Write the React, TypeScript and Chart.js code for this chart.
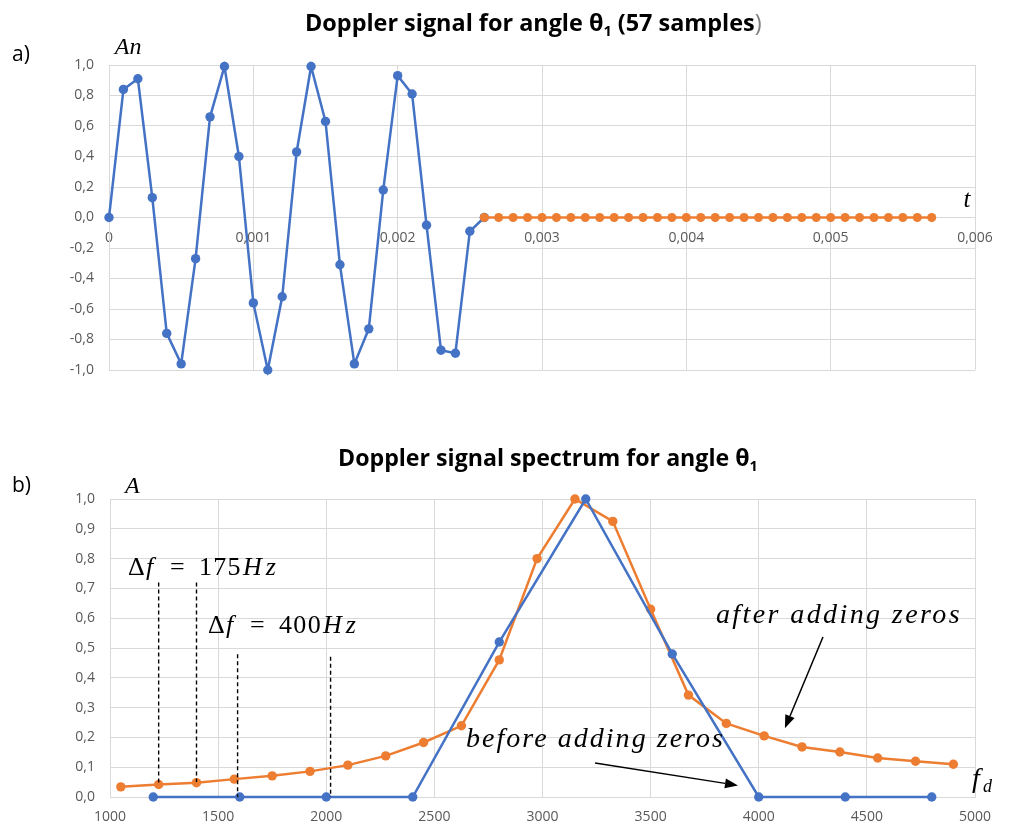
import React, { useEffect, useRef } from "react";
import { Chart, registerables } from "chart.js";
Chart.register(...registerables);

const BLUE = "#4472C4";
const ORANGE = "#ED7D31";
const GRID = "#d9d9d9";
const TICK = "#595959";
const SANS = "'Open Sans', 'Liberation Sans', sans-serif";
const SERIF = "'Liberation Serif', 'DejaVu Serif', serif";

// ---- a) Doppler signal ----
const signalTimes = [0, 0.0001, 0.0002, 0.0003, 0.0004, 0.0005, 0.0006, 0.0007, 0.0008, 0.0009, 0.001, 0.0011, 0.0012, 0.0013, 0.0014, 0.0015, 0.0016, 0.0017, 0.0018, 0.0019, 0.002, 0.0021, 0.0022, 0.0023, 0.0024, 0.0025, 0.0026];
const signalValues = [0, 0.84, 0.91, 0.13, -0.76, -0.96, -0.27, 0.66, 0.99, 0.4, -0.56, -1.0, -0.52, 0.43, 0.99, 0.63, -0.31, -0.96, -0.73, 0.18, 0.93, 0.81, -0.05, -0.87, -0.89, -0.09, 0];
const paddedTimes = [0.0026, 0.0027, 0.0028, 0.0029, 0.003, 0.0031, 0.0032, 0.0033, 0.0034, 0.0035, 0.0036, 0.0037, 0.0038, 0.0039, 0.004, 0.0041, 0.0042, 0.0043, 0.0044, 0.0045, 0.0046, 0.0047, 0.0048, 0.0049, 0.005, 0.0051, 0.0052, 0.0053, 0.0054, 0.0055, 0.0056, 0.0057];
const paddedValues = [0, 0, 0, 0, 0, 0, 0, 0, 0, 0, 0, 0, 0, 0, 0, 0, 0, 0, 0, 0, 0, 0, 0, 0, 0, 0, 0, 0, 0, 0, 0, 0];

// ---- b) Spectrum ----
const beforeFreqs = [1200, 1600, 2000, 2400, 2800, 3200, 3600, 4000, 4400, 4800];
const beforeAmps = [0, 0, 0, 0, 0.52, 1.0, 0.48, 0, 0, 0];
const afterFreqs = [1050, 1225, 1400, 1575, 1750, 1925, 2100, 2275, 2450, 2625, 2800, 2975, 3150, 3325, 3500, 3675, 3850, 4025, 4200, 4375, 4550, 4725, 4900];
const afterAmps = [0.034, 0.042, 0.048, 0.06, 0.071, 0.086, 0.107, 0.138, 0.183, 0.239, 0.46, 0.8, 1.0, 0.925, 0.63, 0.342, 0.247, 0.205, 0.168, 0.151, 0.131, 0.12, 0.11];

// dashed resolution markers: [x, yTop, yBottom]
const markerX = [1225, 1400, 1590, 2020];
const markerTop = [0.72, 0.72, 0.479, 0.471];
const markerBottom = [0.042, 0.05, 0, 0];

const pts = (xs: number[], ys: number[]) => xs.map((x, i) => ({ x, y: ys[i] }));
const comma = (s: string) => s.replace(".", ",");

function drawTitle(ctx: CanvasRenderingContext2D, pre: string, sub: string, post: string, x: number, y: number, target: number, postColor?: string) {
  ctx.font = `bold 100px ${SANS}`;
  const wPre = ctx.measureText(pre).width;
  const wPost = ctx.measureText(post).width;
  ctx.font = `bold 62px ${SANS}`;
  const wSub = ctx.measureText(sub).width;
  const size = (100 * target) / (wPre + wSub + wPost);
  ctx.fillStyle = "#000";
  ctx.textBaseline = "alphabetic";
  ctx.textAlign = "left";
  ctx.font = `bold ${size}px ${SANS}`;
  ctx.fillText(pre, x, y);
  let cx = x + ctx.measureText(pre).width;
  ctx.font = `bold ${size * 0.62}px ${SANS}`;
  ctx.fillText(sub, cx, y + size * 0.2);
  cx += ctx.measureText(sub).width;
  ctx.font = `bold ${size}px ${SANS}`;
  if (postColor) {
    const main = post.slice(0, -1);
    ctx.fillText(main, cx, y);
    cx += ctx.measureText(main).width;
    ctx.fillStyle = postColor;
    ctx.font = `${size}px ${SANS}`;
    ctx.fillText(post.slice(-1), cx, y);
  } else {
    ctx.fillText(post, cx, y);
  }
}

function spaced(ctx: CanvasRenderingContext2D, text: string, x: number, y: number, font: string, target: number) {
  ctx.font = font;
  (ctx as any).letterSpacing = "0px";
  const w = ctx.measureText(text).width;
  const ls = (target - w) / text.length;
  (ctx as any).letterSpacing = `${ls}px`;
  ctx.fillText(text, x, y);
  (ctx as any).letterSpacing = "0px";
}

function arrow(ctx: CanvasRenderingContext2D, x1: number, y1: number, x2: number, y2: number) {
  const ang = Math.atan2(y2 - y1, x2 - x1);
  const hl = 13, hw = 5;
  const bx = x2 - hl * Math.cos(ang), by = y2 - hl * Math.sin(ang);
  ctx.strokeStyle = "#000";
  ctx.lineWidth = 1.5;
  ctx.beginPath();
  ctx.moveTo(x1, y1);
  ctx.lineTo(bx, by);
  ctx.stroke();
  ctx.fillStyle = "#000";
  ctx.beginPath();
  ctx.moveTo(x2, y2);
  ctx.lineTo(bx + hw * Math.sin(ang), by - hw * Math.cos(ang));
  ctx.lineTo(bx - hw * Math.sin(ang), by + hw * Math.cos(ang));
  ctx.closePath();
  ctx.fill();
}

function deltaLabel(ctx: CanvasRenderingContext2D, x: number, y: number, num: string) {
  ctx.fillStyle = "#000";
  ctx.textAlign = "left";
  ctx.textBaseline = "alphabetic";
  ctx.font = `26px ${SERIF}`;
  ctx.fillText("Δ", x, y);
  ctx.font = `italic 26px ${SERIF}`;
  ctx.fillText("f", x + 18, y);
  ctx.font = `26px ${SERIF}`;
  ctx.fillText("=", x + 42, y);
  spaced(ctx, num, x + 71, y, `26px ${SERIF}`, 43);
  spaced(ctx, "Hz", x + 115, y, `italic 26px ${SERIF}`, 37);
}

const tickFont = { family: SANS, size: 14 };

const topOverlay = {
  id: "topOverlay",
  afterDraw(chart: any) {
    const ctx = chart.ctx as CanvasRenderingContext2D;
    const xs = chart.scales.x, ys = chart.scales.y;
    ctx.save();
    drawTitle(ctx, "Doppler signal for angle θ", "1", " (57 samples)", 305, 31, 458, "#7f7f7f");
    ctx.fillStyle = "#000";
    ctx.font = `21px ${SANS}`;
    ctx.fillText("a)", 12, 61);
    ctx.font = `italic 24px ${SERIF}`;
    ctx.fillText("An", xs.getPixelForValue(0.00004), ys.getPixelForValue(1.073));
    ctx.font = `italic 25px ${SERIF}`;
    ctx.fillText("t", xs.getPixelForValue(0.00592), ys.getPixelForValue(0.07));
    ctx.restore();
  },
};

const bottomOverlay = {
  id: "bottomOverlay",
  afterDraw(chart: any) {
    const ctx = chart.ctx as CanvasRenderingContext2D;
    const xs = chart.scales.x, ys = chart.scales.y;
    const X = (v: number) => xs.getPixelForValue(v);
    const Y = (v: number) => ys.getPixelForValue(v);
    ctx.save();
    drawTitle(ctx, "Doppler signal spectrum for angle θ", "1", "", 338, 66, 420);
    ctx.fillStyle = "#000";
    ctx.font = `21px ${SANS}`;
    ctx.fillText("b)", 12, 92);
    ctx.font = `italic 24px ${SERIF}`;
    ctx.fillText("A", X(1069), Y(1.021));

    // dashed markers
    ctx.strokeStyle = "#000";
    ctx.lineWidth = 1.4;
    ctx.setLineDash([4, 3]);
    markerX.forEach((mx, i) => {
      ctx.beginPath();
      ctx.moveTo(X(mx), Y(markerTop[i]));
      ctx.lineTo(X(mx), Y(markerBottom[i]));
      ctx.stroke();
    });
    ctx.setLineDash([]);

    deltaLabel(ctx, X(1083), Y(0.745), "175");
    deltaLabel(ctx, X(1453), Y(0.551), "400");

    ctx.fillStyle = "#000";
    spaced(ctx, "after adding zeros", X(3802), Y(0.583), `italic 28px ${SERIF}`, 246);
    spaced(ctx, "before adding zeros", X(2646), Y(0.167), `italic 28px ${SERIF}`, 259);
    arrow(ctx, X(4297), Y(0.537), X(4121), Y(0.231));
    arrow(ctx, X(3243), Y(0.114), X(3904), Y(0.039));

    ctx.fillStyle = "#000";
    ctx.font = `italic 28px ${SERIF}`;
    ctx.fillText("f", X(4986), Y(0.033));
    ctx.font = `italic 18px ${SERIF}`;
    ctx.fillText("d", X(4986) + 11, Y(0.033) + 5);
    ctx.restore();
  },
};

function lineDs(data: any[], color: string, radius: number, order: number) {
  return {
    data,
    borderColor: color,
    backgroundColor: color,
    pointBackgroundColor: color,
    pointBorderColor: color,
    pointBorderWidth: 0,
    pointRadius: radius,
    borderWidth: 2.5,
    tension: 0,
    clip: false as any,
    order,
  };
}

export default function App() {
  const topRef = useRef<HTMLCanvasElement>(null);
  const botRef = useRef<HTMLCanvasElement>(null);

  useEffect(() => {
    document.body.style.margin = "0";
    const gridOpts = { color: GRID, drawTicks: false, lineWidth: 1 };
    const top = new Chart(topRef.current!, {
      type: "line",
      data: {
        datasets: [
          lineDs(pts(signalTimes, signalValues), BLUE, 4.7, 1),
          lineDs(pts(paddedTimes, paddedValues), ORANGE, 4.5, 0),
        ],
      },
      options: {
        animation: false,
        responsive: false,
        events: [],
        layout: { padding: { top: 65, right: 35, bottom: 30, left: 0 } },
        plugins: { legend: { display: false }, tooltip: { enabled: false }, title: { display: false } },
        scales: {
          x: {
            type: "linear",
            position: { y: 0 } as any,
            min: 0,
            max: 0.006,
            grid: gridOpts,
            border: { color: GRID },
            ticks: {
              stepSize: 0.001,
              autoSkip: false,
              maxRotation: 0,
              color: TICK,
              font: tickFont,
              padding: 12,
              callback: (v: any) => (Math.abs(v) < 1e-9 ? "0" : comma(Number(v).toFixed(3))),
            },
          },
          y: {
            min: -1,
            max: 1,
            grid: gridOpts,
            border: { color: GRID },
            afterFit: (s: any) => {
              s.width = 109;
            },
            ticks: {
              stepSize: 0.2,
              color: TICK,
              font: tickFont,
              padding: 15,
              callback: (v: any) => comma((Math.abs(v) < 1e-9 ? 0 : Number(v)).toFixed(1)),
            },
          },
        },
      },
      plugins: [topOverlay],
    } as any);

    const bottom = new Chart(botRef.current!, {
      type: "line",
      data: {
        datasets: [
          lineDs(pts(beforeFreqs, beforeAmps), BLUE, 4.7, 0),
          lineDs(pts(afterFreqs, afterAmps), ORANGE, 4.7, 1),
        ],
      },
      options: {
        animation: false,
        responsive: false,
        events: [],
        layout: { padding: { top: 99, right: 35, bottom: 0, left: 0 } },
        plugins: { legend: { display: false }, tooltip: { enabled: false }, title: { display: false } },
        scales: {
          x: {
            type: "linear",
            min: 1000,
            max: 5000,
            grid: gridOpts,
            border: { color: GRID },
            afterFit: (s: any) => {
              s.height = 32;
            },
            ticks: {
              stepSize: 500,
              autoSkip: false,
              maxRotation: 0,
              color: TICK,
              font: tickFont,
              padding: 12,
              callback: (v: any) => String(Math.round(Number(v))),
            },
          },
          y: {
            min: 0,
            max: 1,
            grid: gridOpts,
            border: { color: GRID },
            afterFit: (s: any) => {
              s.width = 110;
            },
            ticks: {
              stepSize: 0.1,
              color: TICK,
              font: tickFont,
              padding: 15,
              callback: (v: any) => comma(Number(v).toFixed(1)),
            },
          },
        },
      },
      plugins: [bottomOverlay],
    } as any);

    return () => {
      top.destroy();
      bottom.destroy();
    };
  }, []);

  return (
    <div style={{ position: "relative", width: 1010, height: 829, background: "#fff" }}>
      <canvas ref={topRef} width={1010} height={400} style={{ position: "absolute", left: 0, top: 0 }} />
      <canvas ref={botRef} width={1010} height={429} style={{ position: "absolute", left: 0, top: 400 }} />
    </div>
  );
}
